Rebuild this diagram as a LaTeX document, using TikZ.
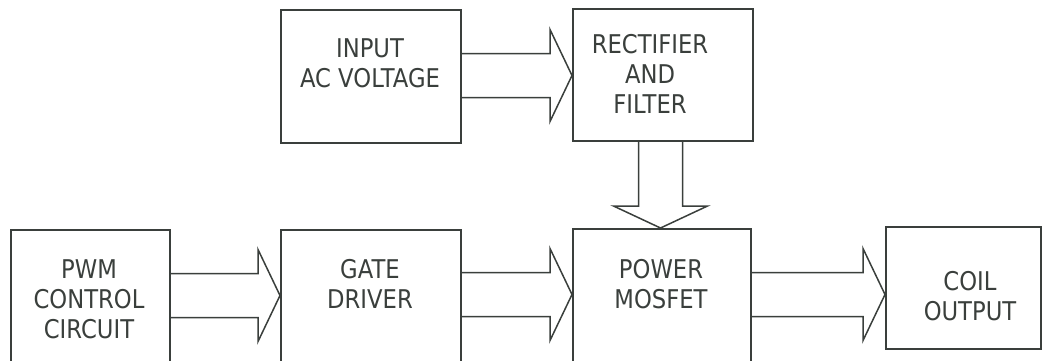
\documentclass[tikz,border=0pt]{standalone}
\usepackage{fontspec}
\setmainfont{DejaVu Sans}[FakeStretch=0.88]
\usetikzlibrary{calc}
\definecolor{ink}{HTML}{3A3F3C}
\tikzset{
  blk/.style 2 args={draw=ink, line width=0.8pt, rectangle, inner sep=0pt,
     minimum width={#1*0.5pt}, minimum height={#2*0.5pt}, anchor=north west},
  lbl/.style={text=ink, font=\fontsize{12.9}{15}\selectfont, align=center, inner sep=0pt},
  fat/.style={draw=ink, line width=0.75pt, line join=miter}
}
% horizontal hollow arrow: #1 source, #2 target, #3 centre y
\newcommand\harrow[3]{%
  \draw[fat] ($(#1.east |- 0,#3)+(0,-22)$) -- ($(#2.west |- 0,#3)+(-22,-22)$)
    -- ($(#2.west |- 0,#3)+(-22,-46)$) -- (#2.west |- 0,#3)
    -- ($(#2.west |- 0,#3)+(-22,46)$) -- ($(#2.west |- 0,#3)+(-22,22)$)
    -- ($(#1.east |- 0,#3)+(0,22)$);}
\begin{document}
\begin{tikzpicture}[x=0.5pt,y=-0.5pt]
\useasboundingbox (0,0) rectangle (1042,360);
\clip (0,0) rectangle (1042,360);
% boxes
\node[blk={180}{133}] (inp) at (280,9) {};
\node[blk={180}{132}] (rec) at (572,8) {};
\node[blk={159}{160}] (pwm) at (10,229) {};
\node[blk={180}{160}] (gate) at (280,229) {};
\node[blk={178}{160}] (mos) at (572,228) {};
\node[blk={155}{122}] (coil) at (885,226) {};
% labels
\node[lbl] (tinp) at (370,63) {INPUT\\AC VOLTAGE};
\node[lbl] (trec) at (650,74) {RECTIFIER\\AND\\FILTER};
\node[lbl] (tpwm) at (89,299) {PWM\\CONTROL\\CIRCUIT};
\node[lbl] (tgate) at (370,284) {GATE\\DRIVER};
\node[lbl] (tmos) at (661,284) {POWER\\MOSFET};
\node[lbl] (tcoil) at (970,296) {COIL\\OUTPUT};
% arrows
\harrow{inp}{rec}{75.5}
\harrow{pwm}{gate}{295.5}
\harrow{gate}{mos}{294.5}
\harrow{mos}{coil}{294.5}
% vertical arrow rectifier -> power mosfet
\draw[fat] ($(rec.south -| 660.5,0)+(-22,0)$) -- ($(mos.north -| 660.5,0)+(-22,-22)$)
  -- ($(mos.north -| 660.5,0)+(-47,-22)$) -- (mos.north -| 660.5,0)
  -- ($(mos.north -| 660.5,0)+(47,-22)$) -- ($(mos.north -| 660.5,0)+(22,-22)$)
  -- ($(rec.south -| 660.5,0)+(22,0)$);
\end{tikzpicture}
\end{document}
